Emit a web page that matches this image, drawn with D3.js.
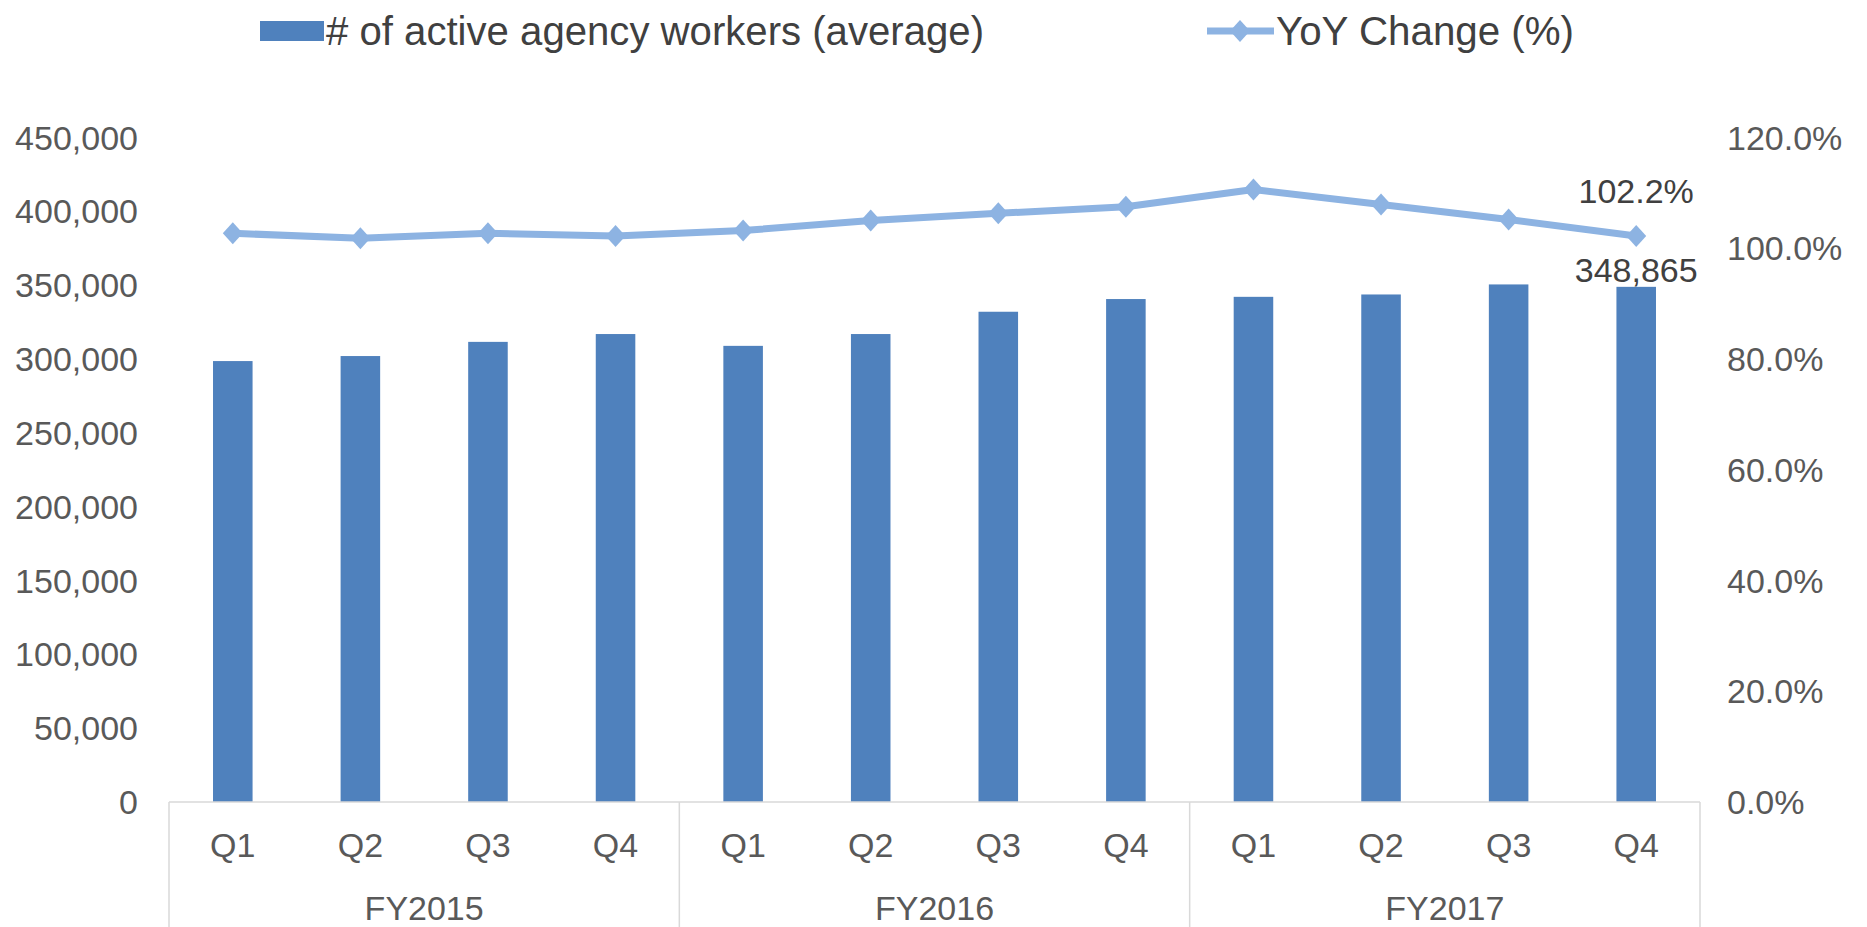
<!DOCTYPE html>
<meta charset="utf-8">
<head>
    <style>
        body { margin: 0; background: #fff; }
        text { font-family: "Liberation Sans", Arial, sans-serif; fill: #595959; }
    </style>
    <script src="https://cdn.jsdelivr.net/npm/d3@7"></script>
</head>
<body></body>
<script>

    var width = 1867,
        height = 927;

    // data
    var years = ["FY2015", "FY2016", "FY2017"];
    var quarters = ["Q1", "Q2", "Q3", "Q4"];
    var workers = [298600, 302000, 311600, 316900, 308900, 316900, 332000, 340600, 342100, 343700, 350500, 348865];
    var yoy = [102.7, 101.8, 102.7, 102.2, 103.2, 105.0, 106.3, 107.5, 110.6, 107.9, 105.2, 102.2];
    var leftTicks = [0, 50000, 100000, 150000, 200000, 250000, 300000, 350000, 400000, 450000];
    var rightTicks = [0, 20, 40, 60, 80, 100, 120];

    var keys = [];
    years.forEach(function(y) { quarters.forEach(function(q) { keys.push(y + "-" + q); }); });

    // plot area (window.top is read-only, so no bare "top")
    var pLeft = 169, pRight = 1700, pTop = 137.5, pBottom = 802;

    var x = d3.scaleBand().domain(keys).range([pLeft, pRight]).paddingInner(0.69).paddingOuter(0.345);
    var step = (pRight - pLeft) / keys.length;
    var yL = d3.scaleLinear().domain([0, 450000]).range([pBottom, pTop]);
    var yR = d3.scaleLinear().domain([0, 120]).range([pBottom, pTop]);

    var svg = d3.select("body").append("svg")
        .attr("width", width)
        .attr("height", height);

    // bars
    svg.selectAll("rect.bar")
        .data(workers)
        .enter().append("rect")
        .attr("class", "bar")
        .attr("x", function(d, i) { return x(keys[i]); })
        .attr("width", x.bandwidth())
        .attr("y", function(d) { return yL(d); })
        .attr("height", function(d) { return pBottom - yL(d); })
        .style("fill", "#4f81bd");

    var cx = function(i) { return x(keys[i]) + x.bandwidth() / 2; };

    // line
    var line = d3.line()
        .x(function(d, i) { return cx(i); })
        .y(function(d) { return yR(d); });

    svg.append("path")
        .datum(yoy)
        .attr("d", line)
        .style("fill", "none")
        .style("stroke", "#8db3e2")
        .style("stroke-width", 7)
        .style("stroke-linejoin", "round");

    var diamond = "M0,-11L10,0L0,11L-10,0Z";
    svg.selectAll("path.mk")
        .data(yoy)
        .enter().append("path")
        .attr("class", "mk")
        .attr("d", diamond)
        .attr("transform", function(d, i) { return "translate(" + cx(i) + "," + yR(d) + ")"; })
        .style("fill", "#8db3e2");

    // category box
    var grid = svg.append("g").style("stroke", "#d9d9d9").style("stroke-width", 1.5);
    grid.append("line").attr("x1", pLeft).attr("x2", pRight).attr("y1", pBottom).attr("y2", pBottom);
    d3.range(years.length + 1).forEach(function(j) {
        var gx = pLeft + j * step * quarters.length;
        grid.append("line").attr("x1", gx).attr("x2", gx).attr("y1", pBottom).attr("y2", height);
    });

    // left axis
    var fmt = d3.format(",");
    svg.selectAll("text.yl")
        .data(leftTicks)
        .enter().append("text")
        .attr("class", "yl")
        .attr("x", 138)
        .attr("y", function(d) { return yL(d) + 12; })
        .attr("text-anchor", "end")
        .style("font-size", "34px")
        .text(function(d) { return fmt(d); });

    // right axis
    svg.selectAll("text.yr")
        .data(rightTicks)
        .enter().append("text")
        .attr("class", "yr")
        .attr("x", 1727)
        .attr("y", function(d) { return yR(d) + 12; })
        .style("font-size", "34px")
        .text(function(d) { return d.toFixed(1) + "%"; });

    // quarter labels
    svg.selectAll("text.q")
        .data(keys)
        .enter().append("text")
        .attr("class", "q")
        .attr("x", function(d, i) { return cx(i); })
        .attr("y", 857)
        .attr("text-anchor", "middle")
        .style("font-size", "34px")
        .text(function(d) { return d.split("-")[1]; });

    // year labels
    svg.selectAll("text.fy")
        .data(years)
        .enter().append("text")
        .attr("class", "fy")
        .attr("x", function(d, j) { return pLeft + (j + 0.5) * step * quarters.length; })
        .attr("y", 920)
        .attr("text-anchor", "middle")
        .style("font-size", "34px")
        .text(function(d) { return d; });

    // data labels on the last point
    var last = keys.length - 1;
    svg.append("text")
        .attr("x", cx(last))
        .attr("y", 203)
        .attr("text-anchor", "middle")
        .style("font-size", "34px")
        .style("fill", "#404040")
        .text(yoy[last].toFixed(1) + "%");
    svg.append("text")
        .attr("x", cx(last))
        .attr("y", 282)
        .attr("text-anchor", "middle")
        .style("font-size", "34px")
        .style("fill", "#404040")
        .text(fmt(workers[last]));

    // legend
    svg.append("rect")
        .attr("x", 260).attr("y", 21).attr("width", 64).attr("height", 20)
        .style("fill", "#4f81bd");
    svg.append("text")
        .attr("x", 326).attr("y", 45)
        .attr("textLength", 658).attr("lengthAdjust", "spacingAndGlyphs")
        .style("font-size", "40px")
        .style("fill", "#404040")
        .text("# of active agency workers (average)");

    svg.append("line")
        .attr("x1", 1207).attr("x2", 1274).attr("y1", 31).attr("y2", 31)
        .style("stroke", "#8db3e2").style("stroke-width", 7);
    svg.append("path")
        .attr("d", diamond)
        .attr("transform", "translate(1240,31)")
        .style("fill", "#8db3e2");
    svg.append("text")
        .attr("x", 1276).attr("y", 45)
        .attr("textLength", 298).attr("lengthAdjust", "spacingAndGlyphs")
        .style("font-size", "40px")
        .style("fill", "#404040")
        .text("YoY Change (%)");

</script>
